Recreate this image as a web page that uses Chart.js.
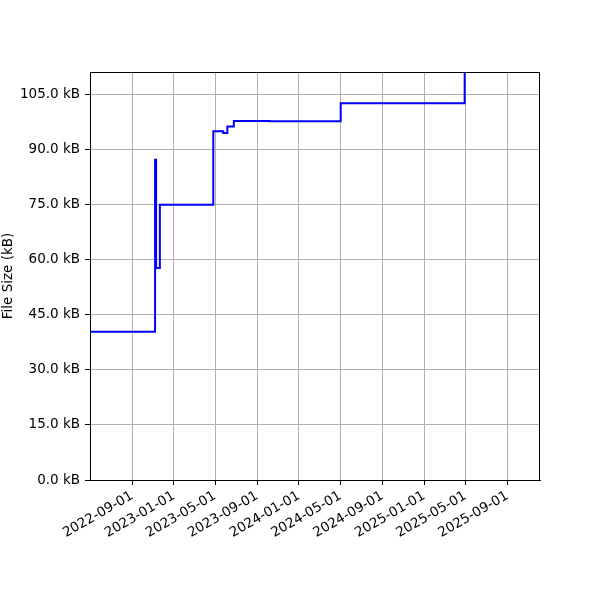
<!DOCTYPE html>
<html lang="en">
<head>
    <meta charset="UTF-8">
    <title>File Size</title>
    <script src="https://cdn.jsdelivr.net/npm/chart.js"></script>
    <style>
        body { margin: 0; background: #fff; }
        #chart { display: block; }
    </style>
</head>
<body>
    <canvas id="chart" width="600" height="600"></canvas>
    <script>
        // dates where the file size changes (value holds until the next date)
        const dates = ['2022-05-01', '2022-11-07', '2022-11-10', '2022-11-21', '2023-04-26', '2023-05-25',
            '2023-06-06', '2023-06-25', '2023-10-07', '2024-05-02', '2025-04-29', '2025-12-05'];
        const sizes = [40.3, 87.1, 57.7, 74.9, 94.9, 94.4, 96.2, 97.7, 97.6, 102.5, 115.0, 115.0];

        const tickLabels = ['2022-09-01', '2023-01-01', '2023-05-01', '2023-09-01', '2024-01-01',
            '2024-05-01', '2024-09-01', '2025-01-01', '2025-05-01', '2025-09-01'];
        const xRange = ['2022-05-01', '2025-12-05'];
        const yMax = 111;

        function toTime(s) {
            const [y, m, d] = s.split('-').map(Number);
            return Date.UTC(y, m - 1, d);
        }

        // black frame around plot area
        const frame = {
            id: 'frame',
            afterDraw(chart) {
                const { ctx, chartArea: a } = chart;
                ctx.save();
                ctx.strokeStyle = '#000';
                ctx.lineWidth = 1;
                ctx.strokeRect(a.left + 0.5, a.top + 0.5, a.right - a.left - 1, a.bottom - a.top);
                ctx.restore();
            }
        };

        Chart.defaults.font.family = 'DejaVu Sans';
        Chart.defaults.font.size = 13.5;
        Chart.defaults.color = '#000';

        new Chart(document.getElementById('chart'), {
            type: 'line',
            data: {
                datasets: [{
                    data: dates.map((d, i) => ({ x: toTime(d), y: sizes[i] })),
                    borderColor: '#0000ff',
                    borderWidth: 2,
                    stepped: 'before',
                    pointRadius: 0,
                    fill: false
                }]
            },
            options: {
                responsive: false,
                animation: false,
                layout: { padding: { top: 72, right: 60, left: 0, bottom: 0 } },
                plugins: { legend: { display: false }, tooltip: { enabled: false } },
                scales: {
                    x: {
                        type: 'linear',
                        min: toTime(xRange[0]),
                        max: toTime(xRange[1]),
                        afterBuildTicks: scale => {
                            scale.ticks = tickLabels.map(t => ({ value: toTime(t) }));
                        },
                        afterFit: scale => { scale.height = 120; },
                        ticks: {
                            callback: (v, i) => tickLabels[i],
                            minRotation: 30,
                            maxRotation: 30,
                            autoSkip: false,
                            padding: 3
                        },
                        grid: { color: '#b0b0b0', lineWidth: 1, tickColor: '#000', tickLength: 5 },
                        border: { color: '#000' }
                    },
                    y: {
                        min: 0,
                        max: yMax,
                        afterFit: scale => { scale.width = 90; },
                        ticks: {
                            stepSize: 15,
                            includeBounds: false,
                            padding: 5,
                            callback: v => v.toFixed(1) + ' kB'
                        },
                        title: { display: true, text: 'File Size (kB)', padding: { top: 0, bottom: 0 } },
                        grid: { color: '#b0b0b0', lineWidth: 1, tickColor: '#000', tickLength: 5 },
                        border: { color: '#000' }
                    }
                }
            },
            plugins: [frame]
        });
    </script>
</body>
</html>
